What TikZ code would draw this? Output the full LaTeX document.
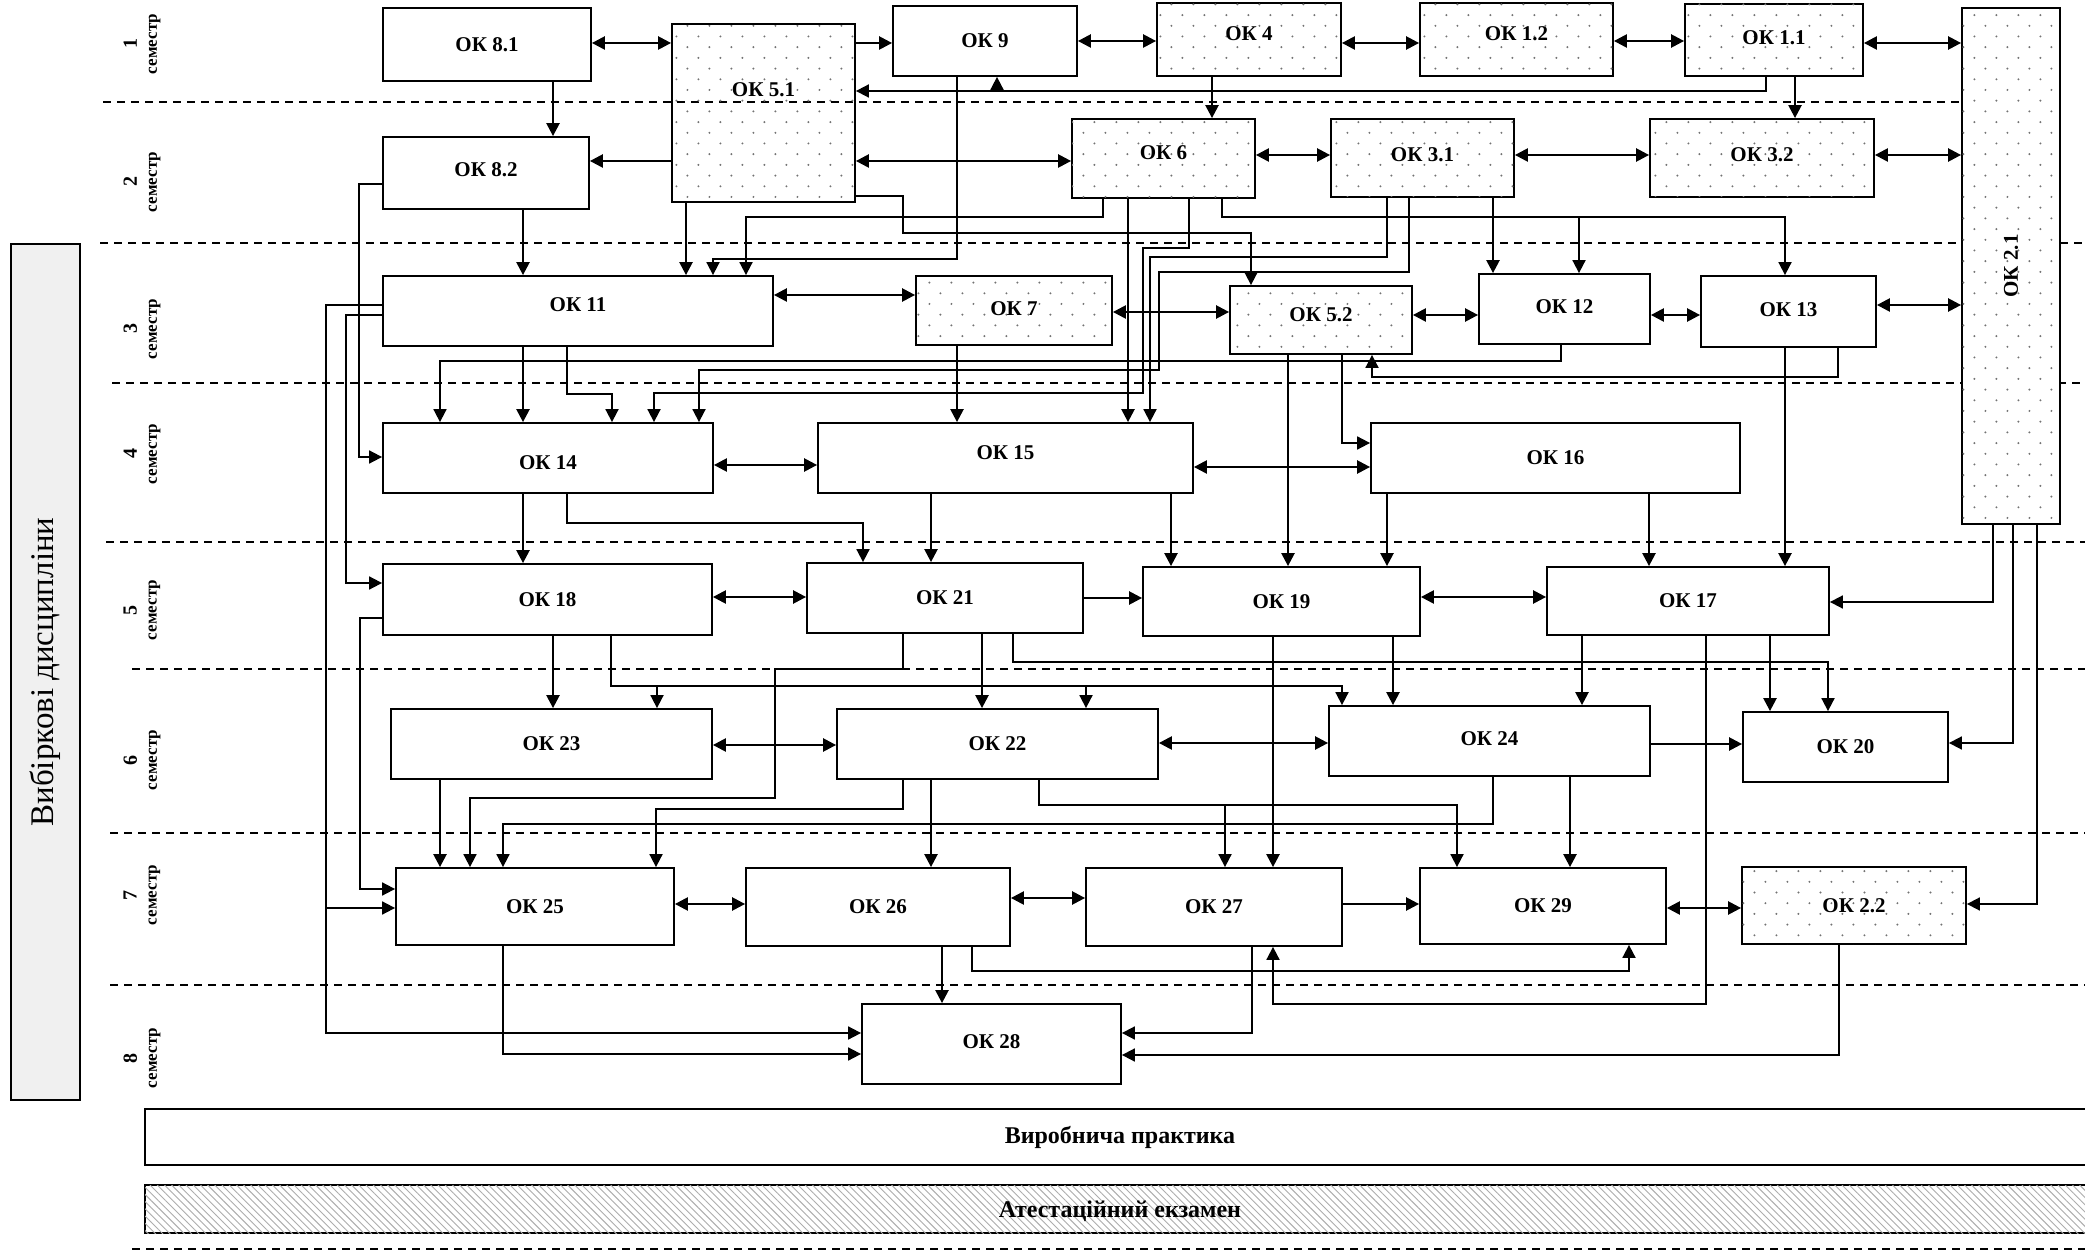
\documentclass[tikz,border=0pt]{standalone}
\usepackage{fontspec}
\usepackage{graphicx}
\setmainfont{Liberation Serif}
\usetikzlibrary{arrows.meta,patterns}

\pgfdeclarepatternformonly{okdots}{\pgfqpoint{-1pt}{-1pt}}{\pgfqpoint{12pt}{12pt}}{\pgfqpoint{11pt}{10.7pt}}{
  \pgfpathcircle{\pgfqpoint{2.7pt}{2.7pt}}{0.55pt}
  \pgfpathcircle{\pgfqpoint{8.2pt}{8.05pt}}{0.55pt}
  \pgfusepath{fill}
}
\pgfdeclarepatternformonly{okhatch}{\pgfqpoint{-1pt}{-1pt}}{\pgfqpoint{5pt}{5pt}}{\pgfqpoint{3.6pt}{3.6pt}}{
  \pgfsetlinewidth{0.45pt}
  \pgfpathmoveto{\pgfqpoint{0pt}{3.6pt}}
  \pgfpathlineto{\pgfqpoint{3.6pt}{0pt}}
  \pgfusepath{stroke}
}

% text raised inside its box
\newcommand{\okup}[2]{\raisebox{#1}[\height][\depth]{#2}}

\tikzset{
  ok/.style={draw, line width=0.9pt, fill=white, inner sep=0pt, font=\bfseries\fontsize{10.5}{12}\selectfont},
  okdot/.style={ok, postaction={pattern=okdots, pattern color=black!55}},
  ar/.style={line width=1.2pt, -{Triangle[length=6.5pt,width=6.5pt]}},
  br/.style={line width=1.2pt, {Triangle[length=6.5pt,width=6.5pt]}-{Triangle[length=6.5pt,width=6.5pt]}},
  rt/.style={line width=0.9pt, -{Triangle[length=6.5pt,width=6.5pt]}},
  sem/.style={dash pattern=on 4pt off 3pt, line width=0.6pt},
  semlab/.style={rotate=90, align=center, inner sep=0pt, font=\bfseries\fontsize{8.5}{10}\selectfont},
}

\begin{document}
\begin{tikzpicture}[x=0.5pt, y=-0.5pt]
\useasboundingbox (0,0) rectangle (2085,1251);

% semesters
\draw[sem] (103,102) -- (1962,102);
\draw[sem] (100,243) -- (2085,243);
\draw[sem] (112,383) -- (2085,383);
\draw[sem] (106,542) -- (2085,542);
\draw[sem] (132,669) -- (2085,669);
\draw[sem] (110,833) -- (2085,833);
\draw[sem] (110,985) -- (2085,985);
\draw[sem] (132,1249) -- (2085,1249);

\node[semlab] (s1) at (142,44) {{\fontsize{10}{10}\selectfont 1}\\семестр};
\node[semlab] (s2) at (142,182) {{\fontsize{10}{10}\selectfont 2}\\семестр};
\node[semlab] (s3) at (142,329) {{\fontsize{10}{10}\selectfont 3}\\семестр};
\node[semlab] (s4) at (142,454) {{\fontsize{10}{10}\selectfont 4}\\семестр};
\node[semlab] (s5) at (142,610) {{\fontsize{10}{10}\selectfont 5}\\семестр};
\node[semlab] (s6) at (142,760) {{\fontsize{10}{10}\selectfont 6}\\семестр};
\node[semlab] (s7) at (142,895) {{\fontsize{10}{10}\selectfont 7}\\семестр};
\node[semlab] (s8) at (142,1058) {{\fontsize{10}{10}\selectfont 8}\\семестр};

\node[draw, line width=1.2pt, fill=black!6, rotate=90, minimum width=428pt, minimum height=34.5pt, inner sep=0pt, font=\fontsize{16.5}{20}\selectfont] (vyb) at (45.5,672) {Вибіркові дисципліни};

% disciplines
\node[ok, minimum width=104pt, minimum height=36.5pt] (ok8a) at (487,44.5) {ОК 8.1};
\node[draw, line width=0.9pt, pattern=okdots, pattern color=black!55, minimum width=91.5pt, minimum height=89pt] (ok5a) at (763.5,113) {};
\node[font=\bfseries\fontsize{10.5}{12}\selectfont] (ok5alab) at (763.5,90) {ОК 5.1};
\node[ok, minimum width=92pt, minimum height=35pt] (ok9) at (985,41) {ОК 9};
\node[okdot, minimum width=92pt, minimum height=36.5pt] (ok4) at (1249,39.5) {\okup{3pt}{ОК 4}};
\node[okdot, minimum width=96.5pt, minimum height=36.5pt] (ok1b) at (1516.5,39.5) {\okup{3pt}{ОК 1.2}};
\node[okdot, minimum width=89pt, minimum height=36pt] (ok1a) at (1774,40) {\okup{1pt}{ОК 1.1}};
\node[okdot, minimum width=49pt, minimum height=258pt] (ok2a) at (2011,266) {\rotatebox{90}{ОК 2.1}};

\node[ok, minimum width=103pt, minimum height=36pt] (ok8b) at (486,173) {\okup{1.5pt}{ОК 8.2}};
\node[okdot, minimum width=91.5pt, minimum height=39.5pt] (ok6) at (1163.5,158.5) {\okup{3pt}{ОК 6}};
\node[okdot, minimum width=91.5pt, minimum height=39pt] (ok3a) at (1422.5,158) {\okup{1.5pt}{ОК 3.1}};
\node[okdot, minimum width=112pt, minimum height=39pt] (ok3b) at (1762,158) {\okup{1.5pt}{ОК 3.2}};

\node[ok, minimum width=195pt, minimum height=35pt] (ok11) at (578,311) {\okup{3pt}{ОК 11}};
\node[okdot, minimum width=98pt, minimum height=34.5pt] (ok7) at (1014,310.5) {\okup{1pt}{ОК 7}};
\node[okdot, minimum width=91pt, minimum height=34pt] (ok5b) at (1321,320) {\okup{2.5pt}{ОК 5.2}};
\node[ok, minimum width=85.5pt, minimum height=35pt] (ok12) at (1564.5,309) {\okup{1pt}{ОК 12}};
\node[ok, minimum width=87.5pt, minimum height=35.5pt] (ok13) at (1788.5,311.5) {\okup{1pt}{ОК 13}};

\node[ok, minimum width=165pt, minimum height=35pt] (ok14) at (548,458) {\okup{-2.5pt}{ОК 14}};
\node[ok, minimum width=187.5pt, minimum height=35pt] (ok15) at (1005.5,458) {\okup{2.5pt}{ОК 15}};
\node[ok, minimum width=184.5pt, minimum height=35pt] (ok16) at (1555.5,458) {ОК 16};

\node[ok, minimum width=164.5pt, minimum height=35.5pt] (ok18) at (547.5,599.5) {ОК 18};
\node[ok, minimum width=138pt, minimum height=35pt] (ok21) at (945,598) {ОК 21};
\node[ok, minimum width=138.5pt, minimum height=34.5pt] (ok19) at (1281.5,601.5) {ОК 19};
\node[ok, minimum width=141pt, minimum height=34pt] (ok17) at (1688,601) {ОК 17};

\node[ok, minimum width=160.5pt, minimum height=35pt] (ok23) at (551.5,744) {ОК 23};
\node[ok, minimum width=160.5pt, minimum height=35pt] (ok22) at (997.5,744) {ОК 22};
\node[ok, minimum width=160.5pt, minimum height=35pt] (ok24) at (1489.5,741) {\okup{1pt}{ОК 24}};
\node[ok, minimum width=102.5pt, minimum height=35pt] (ok20) at (1845.5,747) {ОК 20};

\node[ok, minimum width=139pt, minimum height=38.5pt] (ok25) at (535,906.5) {ОК 25};
\node[ok, minimum width=132pt, minimum height=39pt] (ok26) at (878,907) {ОК 26};
\node[ok, minimum width=128pt, minimum height=39pt] (ok27) at (1214,907) {ОК 27};
\node[ok, minimum width=123pt, minimum height=38pt] (ok29) at (1543,906) {ОК 29};
\node[okdot, minimum width=112pt, minimum height=38.5pt] (ok2b) at (1854,905.5) {ОК 2.2};

\node[ok, minimum width=129.5pt, minimum height=40pt] (ok28) at (991.5,1044) {\okup{1pt}{ОК 28}};

\node[ok, minimum width=975pt, minimum height=28pt, font=\bfseries\fontsize{12}{14}\selectfont] (prak) at (1120,1137) {Виробнича практика};
\node[ok, minimum width=975pt, minimum height=24pt, postaction={pattern=okhatch, pattern color=black!32}] (atest) at (1120,1209) {};
\node[font=\bfseries\fontsize{12}{14}\selectfont] (atestlab) at (1120,1211) {Атестаційний екзамен};

% 1 semester
\draw[br] (ok8a.east |- 0,43) -- (ok5a.west |- 0,43);
\draw[ar] (ok5a.east |- 0,43) -- (ok9.west |- 0,43);
\draw[br] (ok9.east |- 0,41) -- (ok4.west |- 0,41);
\draw[br] (ok4.east |- 0,43) -- (ok1b.west |- 0,43);
\draw[br] (ok1b.east |- 0,41) -- (ok1a.west |- 0,41);
\draw[br] (ok1a.east |- 0,43) -- (ok2a.west |- 0,43);
\draw[rt] (ok1a.south -| 1766,0) |- (ok5a.east |- 0,91);
\draw[rt] (997,91) -- (ok9.south -| 997,0);
\draw[ar] (ok1a.south -| 1795,0) -- (ok3b.north -| 1795,0);
\draw[ar] (ok8a.south -| 553,0) -- (ok8b.north -| 553,0);
\draw[ar] (ok4.south -| 1212,0) -- (ok6.north -| 1212,0);

% 2 semester
\draw[ar] (ok5a.west |- 0,161) -- (ok8b.east |- 0,161);
\draw[br] (ok5a.east |- 0,161) -- (ok6.west |- 0,161);
\draw[br] (ok6.east |- 0,155) -- (ok3a.west |- 0,155);
\draw[br] (ok3a.east |- 0,155) -- (ok3b.west |- 0,155);
\draw[br] (ok3b.east |- 0,155) -- (ok2a.west |- 0,155);
\draw[ar] (ok8b.south -| 523,0) -- (ok11.north -| 523,0);
\draw[ar] (ok5a.south -| 686,0) -- (ok11.north -| 686,0);
\draw[rt] (ok9.south -| 957,0) -- (957,259) -| (ok11.north -| 713,0);
\draw[rt] (ok6.south -| 1103,0) -- (1103,217) -| (ok11.north -| 746,0);
\draw[rt] (ok5a.east |- 0,196) -| (903,233) -| (ok5b.north -| 1251,0);
\draw[rt] (ok6.south -| 1189,0) |- (1143,248) |- (654,393) -- (ok14.north -| 654,0);
\draw[rt] (ok3a.south -| 1387,0) |- (1150,257) -- (ok15.north -| 1150,0);
\draw[rt] (ok3a.south -| 1409,0) |- (1159,272) |- (699,370) -- (ok14.north -| 699,0);
\draw[ar] (ok6.south -| 1128,0) -- (ok15.north -| 1128,0);
\draw[rt] (ok6.south -| 1222,0) |- (1785,217) -- (ok13.north -| 1785,0);
\draw[rt] (1579,217) -- (ok12.north -| 1579,0);
\draw[ar] (ok3a.south -| 1493,0) -- (ok12.north -| 1493,0);
\draw[rt] (ok8b.west |- 0,184) -| (359,457) -- (ok14.west |- 0,457);

% 3 semester
\draw[br] (ok11.east |- 0,295) -- (ok7.west |- 0,295);
\draw[br] (ok7.east |- 0,312) -- (ok5b.west |- 0,312);
\draw[br] (ok5b.east |- 0,315) -- (ok12.west |- 0,315);
\draw[br] (ok12.east |- 0,315) -- (ok13.west |- 0,315);
\draw[br] (ok13.east |- 0,305) -- (ok2a.west |- 0,305);
\draw[rt] (ok13.south -| 1838,0) |- (1372,377) -- (ok5b.south -| 1372,0);
\draw[rt] (ok12.south -| 1561,0) |- (440,361) -- (ok14.north -| 440,0);
\draw[ar] (ok11.south -| 523,0) -- (ok14.north -| 523,0);
\draw[rt] (ok11.south -| 567,0) |- (612,394) -- (ok14.north -| 612,0);
\draw[ar] (ok7.south -| 957,0) -- (ok15.north -| 957,0);
\draw[rt] (ok11.west |- 0,315) -| (346,583) -- (ok18.west |- 0,583);
\draw[rt] (ok11.west |- 0,305) -| (326,1033) -- (ok28.west |- 0,1033);
\draw[rt] (326,908) -- (ok25.west |- 0,908);
\draw[ar] (ok5b.south -| 1288,0) -- (ok19.north -| 1288,0);
\draw[rt] (ok5b.south -| 1342,0) |- (ok16.west |- 0,443);
\draw[ar] (ok13.south -| 1785,0) -- (ok17.north -| 1785,0);

% 4 semester
\draw[br] (ok14.east |- 0,465) -- (ok15.west |- 0,465);
\draw[br] (ok15.east |- 0,467) -- (ok16.west |- 0,467);
\draw[ar] (ok14.south -| 523,0) -- (ok18.north -| 523,0);
\draw[rt] (ok14.south -| 567,0) |- (863,523) -- (ok21.north -| 863,0);
\draw[ar] (ok15.south -| 931,0) -- (ok21.north -| 931,0);
\draw[ar] (ok15.south -| 1171,0) -- (ok19.north -| 1171,0);
\draw[ar] (ok16.south -| 1387,0) -- (ok19.north -| 1387,0);
\draw[ar] (ok16.south -| 1649,0) -- (ok17.north -| 1649,0);
\draw[rt] (ok2a.south -| 1993,0) |- (ok17.east |- 0,602);
\draw[rt] (ok2a.south -| 2013,0) |- (ok20.east |- 0,743);
\draw[rt] (ok2a.south -| 2037,0) |- (ok2b.east |- 0,904);

% 5 semester
\draw[br] (ok18.east |- 0,597) -- (ok21.west |- 0,597);
\draw[ar] (ok21.east |- 0,598) -- (ok19.west |- 0,598);
\draw[br] (ok19.east |- 0,597) -- (ok17.west |- 0,597);
\draw[ar] (ok18.south -| 553,0) -- (ok23.north -| 553,0);
\draw[rt] (ok18.south -| 611,0) |- (1342,686) -- (ok24.north -| 1342,0);
\draw[rt] (657,686) -- (ok23.north -| 657,0);
\draw[rt] (1086,686) -- (ok22.north -| 1086,0);
\draw[ar] (ok21.south -| 982,0) -- (ok22.north -| 982,0);
\draw[rt] (ok21.south -| 1013,0) |- (1828,662) -- (ok20.north -| 1828,0);
\draw[rt] (ok21.south -| 903,0) |- (775,669) |- (470,798) -- (ok25.north -| 470,0);
\draw[ar] (ok19.south -| 1393,0) -- (ok24.north -| 1393,0);
\draw[ar] (ok17.south -| 1582,0) -- (ok24.north -| 1582,0);
\draw[ar] (ok17.south -| 1770,0) -- (ok20.north -| 1770,0);
\draw[ar] (ok19.south -| 1273,0) -- (ok27.north -| 1273,0);
\draw[rt] (ok17.south -| 1706,0) |- (1273,1004) -- (ok27.south -| 1273,0);
\draw[rt] (ok18.west |- 0,618) -| (360,889) -- (ok25.west |- 0,889);

% 6 semester
\draw[br] (ok23.east |- 0,745) -- (ok22.west |- 0,745);
\draw[br] (ok22.east |- 0,743) -- (ok24.west |- 0,743);
\draw[ar] (ok24.east |- 0,744) -- (ok20.west |- 0,744);
\draw[ar] (ok23.south -| 440,0) -- (ok25.north -| 440,0);
\draw[rt] (ok22.south -| 903,0) |- (656,809) -- (ok25.north -| 656,0);
\draw[ar] (ok22.south -| 931,0) -- (ok26.north -| 931,0);
\draw[rt] (ok22.south -| 1039,0) |- (1457,805) -- (ok29.north -| 1457,0);
\draw[rt] (1225,805) -- (ok27.north -| 1225,0);
\draw[rt] (ok24.south -| 1493,0) |- (503,824) -- (ok25.north -| 503,0);
\draw[ar] (ok24.south -| 1570,0) -- (ok29.north -| 1570,0);

% 7 semester
\draw[br] (ok25.east |- 0,904) -- (ok26.west |- 0,904);
\draw[br] (ok26.east |- 0,898) -- (ok27.west |- 0,898);
\draw[ar] (ok27.east |- 0,904) -- (ok29.west |- 0,904);
\draw[br] (ok29.east |- 0,908) -- (ok2b.west |- 0,908);
\draw[rt] (ok25.south -| 503,0) |- (ok28.west |- 0,1054);
\draw[ar] (ok26.south -| 942,0) -- (ok28.north -| 942,0);
\draw[rt] (ok26.south -| 972,0) |- (1629,971) -- (ok29.south -| 1629,0);
\draw[rt] (ok27.south -| 1252,0) |- (ok28.east |- 0,1033);
\draw[rt] (ok2b.south -| 1839,0) |- (ok28.east |- 0,1055);

\end{tikzpicture}
\end{document}
